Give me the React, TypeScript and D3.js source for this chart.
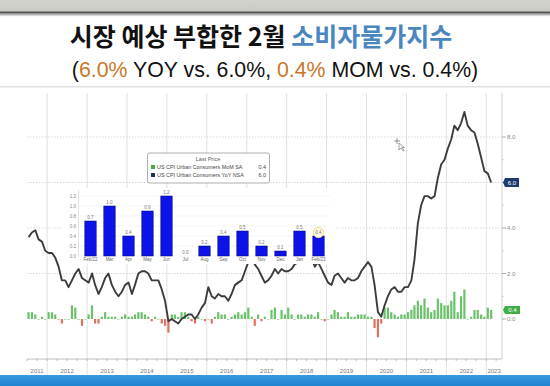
import React from "react";
import * as d3 from "d3";

// ---------- DATA ----------
const START_YEAR = 2011;
const START_MONTH = 6; // July (0-based)

// US CPI YoY NSA, monthly Jul-2011 .. Feb-2023
const yoyValues = [
  3.6, 3.8, 3.9, 3.5, 3.4, 3.0,
  2.9, 2.9, 2.7, 2.3, 1.7, 1.7, 1.4, 1.7, 2.0, 2.2, 1.8, 1.7,
  1.6, 2.0, 1.5, 1.1, 1.4, 1.8, 2.0, 1.5, 1.2, 1.0, 1.2, 1.5,
  1.6, 1.1, 1.5, 2.0, 2.1, 2.1, 2.0, 1.7, 1.7, 1.7, 1.3, 0.8,
  -0.1, 0.0, -0.1, -0.2, 0.0, 0.1, 0.2, 0.2, 0.0, 0.2, 0.5, 0.7,
  1.4, 1.0, 0.9, 1.1, 1.0, 1.0, 0.8, 1.1, 1.5, 1.6, 1.7, 2.1,
  2.5, 2.7, 2.4, 2.2, 1.9, 1.6, 1.7, 1.9, 2.2, 2.0, 2.2, 2.1,
  2.1, 2.2, 2.4, 2.5, 2.8, 2.9, 2.9, 2.7, 2.3, 2.5, 2.2, 1.9,
  1.6, 1.5, 1.9, 2.0, 1.8, 1.6, 1.8, 1.7, 1.7, 1.8, 2.1, 2.3,
  2.5, 2.3, 1.5, 0.3, 0.1, 0.6, 1.0, 1.3, 1.4, 1.2, 1.2, 1.4,
  1.4, 1.7, 2.6, 4.2, 5.0, 5.4, 5.4, 5.3, 5.4, 6.2, 6.8, 7.0,
  7.5, 7.9, 8.5, 8.3, 8.6, 9.1, 8.5, 8.3, 8.2, 7.7, 7.1, 6.5,
  6.4, 6.0,
];

// US CPI MoM SA, monthly Jul-2011 .. Feb-2023
const momValues = [
  0.3, 0.3, 0.2, 0.0, 0.1, 0.0,
  0.3, 0.3, 0.2, 0.0, -0.2, 0.0, 0.0, 0.6, 0.5, 0.0, -0.3, 0.0,
  0.2, 0.6, -0.2, -0.2, 0.1, 0.3, 0.1, 0.1, 0.1, 0.0, 0.1, 0.2,
  0.1, 0.1, 0.2, 0.3, 0.3, 0.2, 0.1, -0.1, 0.1, 0.0, -0.2, -0.3,
  -0.6, 0.2, 0.2, 0.1, 0.3, 0.3, 0.1, -0.1, -0.2, 0.1, 0.0, -0.1,
  0.0, -0.2, 0.1, 0.3, 0.2, 0.2, 0.0, 0.1, 0.2, 0.3, 0.2, 0.3,
  0.5, 0.1, -0.3, 0.2, -0.1, 0.1, 0.0, 0.4, 0.5, 0.0, 0.4, 0.2,
  0.5, 0.2, 0.0, 0.2, 0.2, 0.1, 0.2, 0.2, 0.1, 0.3, 0.0, -0.1,
  0.0, 0.2, 0.4, 0.3, 0.1, 0.1, 0.3, 0.1, 0.1, 0.2, 0.2, 0.2,
  0.1, 0.1, -0.4, -0.8, -0.2, 0.5, 0.5, 0.3, 0.2, 0.1, 0.2, 0.2,
  0.3, 0.4, 0.6, 0.8, 0.6, 0.9, 0.5, 0.3, 0.4, 0.9, 0.7, 0.6,
  0.6, 0.8, 1.2, 0.3, 1.0, 1.3, 0.0, 0.1, 0.4, 0.4, 0.2, 0.1,
  0.5, 0.4,
];

const yearLabels = ["2011", "2012", "2013", "2014", "2015", "2016", "2017", "2018", "2019", "2020", "2021", "2022", "2023"];
const rightTicks = [0, 2, 4, 6, 8];
const rightTickLabels = ["0.0", "2.0", "4.0", "6.0", "8.0"];

// inset bar chart (MoM, last 13 months)
const insetCats = ["Feb/22", "Mar", "Apr", "May", "Jun", "Jul", "Aug", "Sep", "Oct", "Nov", "Dec", "Jan", "Feb/23"];
const insetVals = [0.7, 1.0, 0.4, 0.9, 1.2, 0.0, 0.2, 0.4, 0.5, 0.2, 0.1, 0.5, 0.4];
const insetTicks = [0, 0.2, 0.4, 0.6, 0.8, 1.0, 1.2];

const titleBlack = "시장 예상 부합한 2월 ";
const titleBlue = "소비자물가지수";
const legendTitle = "Last Price";
const legendRows = [
  { label: "US CPI Urban Consumers MoM SA", value: "0.4", color: "#3fae49" },
  { label: "US CPI Urban Consumers YoY NSA", value: "6.0", color: "#1b2f5a" },
];

// ---------- LAYOUT ----------
const W = 550;
const H = 386;
const plotLeft = 27;
const plotRight = 502;
const plotTop = 93;
const axisY = 359;

export default function App() {
  const dates = yoyValues.map((_, i) => new Date(START_YEAR, START_MONTH + i, 15));
  const x = d3
    .scaleTime()
    .domain([new Date(2011, 6, 1), new Date(2023, 4, 25)])
    .range([plotLeft, plotRight]);
  const y = d3.scaleLinear().domain([0, 8]).range([319, 137]);

  const line = d3
    .line<number>()
    .x((_, i) => x(dates[i]))
    .y((d) => y(d));

  const [d0, d1] = x.domain();
  const years = yearLabels.map((lab) => {
    const ys = new Date(+lab, 0, 1);
    const ye = new Date(+lab + 1, 0, 1);
    const a = Math.max(+ys, +d0);
    const b = Math.min(+ye, +d1);
    return { lab, start: ys, cx: (x(new Date(a)) + x(new Date(b))) / 2 };
  });
  const quarterTicks = d3.timeMonth.every(3)!.range(d0, d1);

  // inset scales
  const ix = d3.scaleBand<string>().domain(insetCats).range([81, 328]).paddingInner(0.4).paddingOuter(0.2);
  const iy = d3.scaleLinear().domain([0, 1.2]).range([256, 196]);

  const lastYoy = yoyValues[yoyValues.length - 1];
  const lastMom = momValues[momValues.length - 1];

  return (
    <svg
      width={W}
      height={H}
      style={{ position: "absolute", left: 0, top: 0, background: "#fff" }}
      fontFamily="'Liberation Sans', Arial, sans-serif"
    >
      <defs>
        <linearGradient id="topband" x1="0" y1="0" x2="0" y2="1">
          <stop offset="0" stopColor="#d4d4ce" />
          <stop offset="1" stopColor="#c9c9c3" />
        </linearGradient>
        <linearGradient id="shadow" x1="0" y1="0" x2="0" y2="1">
          <stop offset="0" stopColor="#9a9a9a" />
          <stop offset="1" stopColor="#ffffff" />
        </linearGradient>
        <linearGradient id="botband" x1="0" y1="0" x2="0" y2="1">
          <stop offset="0" stopColor="#3a9ae0" />
          <stop offset="1" stopColor="#1f82cf" />
        </linearGradient>
      </defs>

      {/* top band */}
      <rect x={0} y={0} width={W} height={12} fill="url(#topband)" />
      <rect x={0} y={11.5} width={W} height={2.2} fill="#555" />
      <rect x={0} y={13.7} width={W} height={3} fill="url(#shadow)" />

      {/* titles */}
      <text
        x={261}
        y={46}
        textAnchor="middle"
        fontFamily="'Noto Sans CJK KR', 'Noto Sans', sans-serif"
        fontWeight={700}
        fontSize={25}
        fill="#111"
      >
        <tspan>{titleBlack}</tspan>
        <tspan fill="#4a86c0">{titleBlue}</tspan>
      </text>
      <text x={275} y={77} textAnchor="middle" fontSize={21.3} fill="#111">
        <tspan>(</tspan>
        <tspan fill="#c8782a">6.0%</tspan>
        <tspan> YOY vs. 6.0%, </tspan>
        <tspan fill="#c8782a">0.4%</tspan>
        <tspan> MOM vs. 0.4%)</tspan>
      </text>
      <rect x={0} y={86} width={W} height={1.5} fill="#e2e2e2" />

      {/* vertical year gridlines */}
      {years.slice(1).map((yr) => (
        <line key={yr.lab} x1={x(yr.start)} x2={x(yr.start)} y1={plotTop} y2={375} stroke="#e0e0e0" strokeWidth={1} />
      ))}

      {/* horizontal dotted gridlines */}
      {rightTicks.slice(1).map((t) => (
        <line key={t} x1={plotLeft} x2={plotRight} y1={y(t)} y2={y(t)} stroke="#cfcfcf" strokeWidth={0.8} strokeDasharray="1.5,1.5" />
      ))}

      {/* MoM bars */}
      {momValues.map((v, i) => (
        <rect
          key={i}
          x={x(dates[i]) - 1.1}
          width={2.2}
          y={v >= 0 ? y(v) : y(0)}
          height={Math.max(Math.abs(y(v) - y(0)), 0.6)}
          fill={v >= 0 ? "#6cc26c" : "#e07060"}
        />
      ))}

      {/* YoY line */}
      <path d={line(yoyValues) || ""} fill="none" stroke="#3c3c3c" strokeWidth={1.9} strokeLinejoin="round" />

      {/* right axis */}
      <line x1={plotRight} x2={plotRight} y1={plotTop} y2={axisY} stroke="#cfcfcf" strokeWidth={1} />
      {rightTicks.map((t, i) => (
        <g key={t}>
          <line x1={plotRight} x2={plotRight + 4} y1={y(t)} y2={y(t)} stroke="#999" strokeWidth={0.8} />
          {t !== 6 && (
            <text x={plotRight + 5} y={y(t) + 2} fontSize={6} fill="#888">
              {rightTickLabels[i]}
            </text>
          )}
        </g>
      ))}
      {[1, 3, 5, 7].map((t) => (
        <line key={t} x1={plotRight} x2={plotRight + 2} y1={y(t)} y2={y(t)} stroke="#bbb" strokeWidth={0.6} />
      ))}
      {/* last value tags */}
      <g>
        <path
          d={`M${plotRight + 1},${y(lastYoy)} L${plotRight + 3},${y(lastYoy) - 4.5} L${plotRight + 17},${y(lastYoy) - 4.5} L${plotRight + 17},${y(lastYoy) + 4.5} L${plotRight + 3},${y(lastYoy) + 4.5} Z`}
          fill="#1d3b6e"
        />
        <text x={plotRight + 10} y={y(lastYoy) + 2} fontSize={6} fill="#fff" textAnchor="middle">
          {lastYoy.toFixed(1)}
        </text>
        <path
          d={`M${plotRight + 1},${y(lastMom)} L${plotRight + 3},${y(lastMom) - 4} L${plotRight + 18},${y(lastMom) - 4} L${plotRight + 18},${y(lastMom) + 4} L${plotRight + 3},${y(lastMom) + 4} Z`}
          fill="#3fae49"
        />
        <text x={plotRight + 10.5} y={y(lastMom) + 2} fontSize={6} fill="#fff" textAnchor="middle">
          {lastMom.toFixed(1)}
        </text>
      </g>

      {/* bottom axis */}
      <line x1={plotLeft} x2={plotRight} y1={axisY} y2={axisY} stroke="#b0b0b0" strokeWidth={0.8} />
      {quarterTicks.map((d, i) => (
        <line key={i} x1={x(d)} x2={x(d)} y1={axisY} y2={axisY + 2} stroke="#999" strokeWidth={0.6} />
      ))}
      {years.map((yr) => (
        <text key={yr.lab} x={yr.cx} y={373} fontSize={6} fill="#777" textAnchor="middle">
          {yr.lab}
        </text>
      ))}

      {/* inset bar chart */}
      <g>
        <rect x={63} y={188} width={272} height={76} fill="#fff" />
        {insetTicks.map((t) => (
          <line key={t} x1={79} x2={330} y1={iy(t)} y2={iy(t)} stroke="#eeeeee" strokeWidth={0.6} />
        ))}
        <line x1={78.5} x2={78.5} y1={190} y2={257} stroke="#d0d0d0" strokeWidth={0.6} />
        {insetTicks.map((t) => (
          <text key={t} x={76} y={iy(t) + 1.5} fontSize={4.5} fill="#888" textAnchor="end">
            {t.toFixed(1)}
          </text>
        ))}
        {insetCats.map((c, i) => {
          const v = insetVals[i];
          const bx = ix(c)!;
          const bw = ix.bandwidth();
          return (
            <g key={c}>
              {v > 0 && (
                <rect x={bx} y={iy(v)} width={bw} height={iy(0) - iy(v)} fill="#0c12e8" stroke="#00086e" strokeWidth={0.5} />
              )}
              {i === insetCats.length - 1 && (
                <circle cx={bx + bw / 2} cy={iy(v) - 3.5} r={5.2} fill="#fffbe6" stroke="#f0d060" strokeWidth={0.8} />
              )}
              <text x={bx + bw / 2} y={iy(v) - 2.5} fontSize={4.5} fill="#777" textAnchor="middle">
                {v.toFixed(1)}
              </text>
              <text x={bx + bw / 2} y={261} fontSize={4.5} fill="#666" textAnchor="middle">
                {c}
              </text>
            </g>
          );
        })}
      </g>

      {/* inset legend */}
      <g>
        <rect x={147.5} y={153} width={122} height={30} rx={2} fill="#fff" stroke="#9a9a9a" strokeWidth={0.8} />
        <text x={208} y={161} fontSize={5.5} fill="#555" textAnchor="middle">
          {legendTitle}
        </text>
        {legendRows.map((r, i) => (
          <g key={r.label}>
            <rect x={151} y={165 + i * 8} width={4} height={4} fill={r.color} />
            <text x={157} y={169 + i * 8} fontSize={5.4} fill="#444">
              {r.label}
            </text>
            <text x={266} y={169 + i * 8} fontSize={5.4} fill="#444" textAnchor="end">
              {r.value}
            </text>
          </g>
        ))}
      </g>

      {/* mouse cursor */}
      <g stroke="#777" strokeWidth={0.8} fill="none">
        <line x1={394} x2={400} y1={141} y2={141} />
        <line x1={397} x2={397} y1={138} y2={144} />
        <path d="M399,143 L399,150 L401,148 L403,151 L404,150.5 L402,147.5 L404.5,147.5 Z" fill="#fff" stroke="#666" strokeWidth={0.6} />
      </g>

      {/* bottom band */}
      <rect x={0} y={375} width={W} height={11} fill="url(#botband)" />
    </svg>
  );
}
